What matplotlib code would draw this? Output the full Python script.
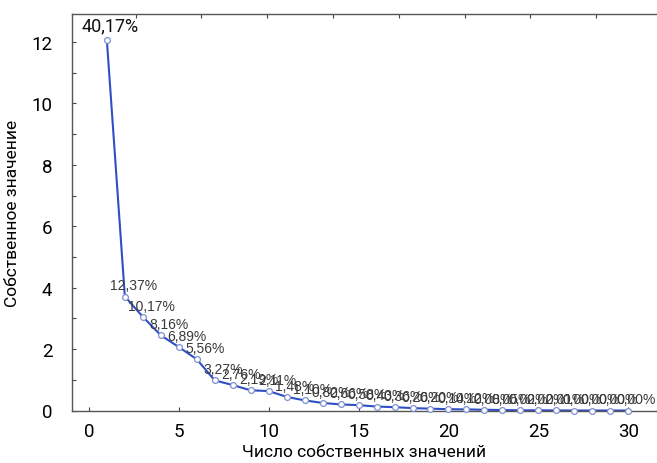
import matplotlib
matplotlib.use("Agg")
import matplotlib.pyplot as plt
import numpy as np

# Data
component = list(range(1, 31))
percent = [40.17, 12.37, 10.17, 8.16, 6.89, 5.56, 3.27, 2.76, 2.19, 2.11,
           1.48, 1.10, 0.82, 0.66, 0.58, 0.43, 0.36, 0.26, 0.20, 0.14,
           0.12, 0.08, 0.05, 0.02, 0.02, 0.01, 0.00, 0.00, 0.00, 0.00]
n_vars = 30
eigen = [p * n_vars / 100.0 for p in percent]

xticks = [0, 5, 10, 15, 20, 25, 30]
yticks = [0, 2, 4, 6, 8, 10, 12]

plt.rcParams['font.family'] = ['Roboto', 'DejaVu Sans']

fig = plt.figure(figsize=(6.57, 4.64), dpi=100)
ax = fig.add_axes([72/657, 52.5/464, 1 - 72/657, (411.5-15)/464])

ax.plot(component, eigen, color='#2f4fc4', lw=1.5, zorder=2)
ax.plot(component, eigen, ls='none', marker='o', ms=4.2, mfc='white',
        mec='#8090d0', mew=0.9, zorder=3, clip_on=False)

for i, (x, y, p) in enumerate(zip(component, eigen, percent)):
    txt = f"{p:.2f}%".replace('.', ',')
    if i == 0:
        ax.annotate(txt, (x, y), xytext=(2, 4), textcoords='offset points',
                    ha='center', va='bottom', fontsize=13, color='#111111')
    else:
        ax.annotate(txt, (x, y), xytext=(6, 3), textcoords='offset points',
                    ha='center', va='bottom', fontsize=10, color='#3a3a3a',
                    family='Liberation Sans')

ax.set_xlim(-0.94, 31.6)
ax.set_ylim(0, 12.91)
ax.set_xticks(xticks)
ax.set_yticks(yticks)
ax.set_yticks(np.arange(1, 13, 2), minor=True)
ax.tick_params(axis='both', which='both', direction='in', length=3,
               width=0.8, color='#444444', labelsize=13.5, pad=14)
ax.tick_params(axis='x', pad=8)
ax.spines['right'].set_visible(False)
for s in ['left', 'bottom', 'top']:
    ax.spines[s].set_color('#555555')
    ax.spines[s].set_linewidth(1.0)

top = ax.secondary_xaxis('top')
top.set_ticks(np.arange(2.6, 32, 3.66))
top.tick_params(direction='in', length=3, width=0.8, color='#444444',
                labeltop=False)
top.spines['top'].set_visible(False)

ax.set_xlabel('Число собственных значений', fontsize=12.5, labelpad=3)
ax.set_ylabel('Собственное значение', fontsize=12.5, labelpad=8)

fig.savefig('out.png', dpi=100)
